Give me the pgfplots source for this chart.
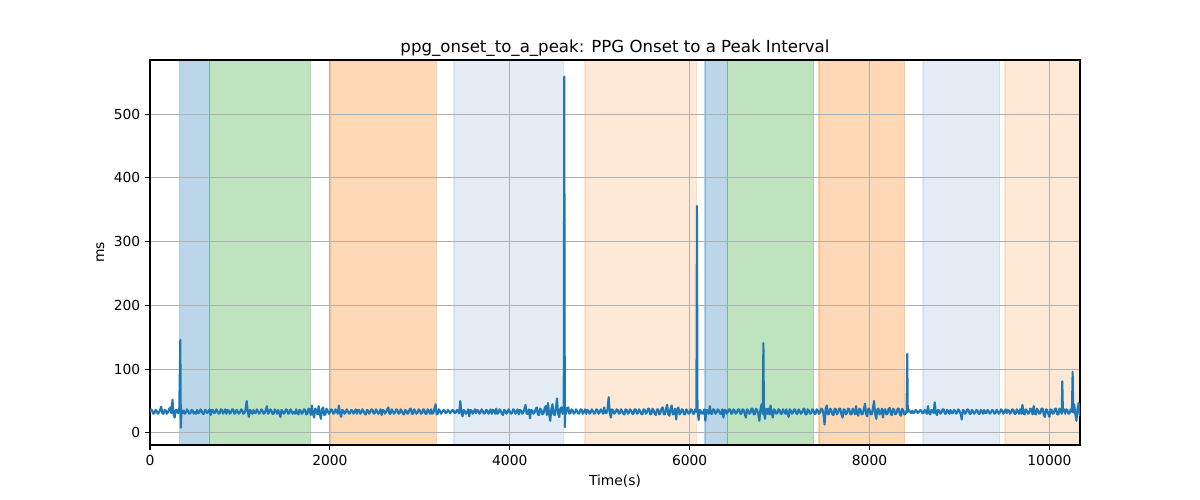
\documentclass[border=0pt]{standalone}
\usepackage{fontspec}
\setmainfont{DejaVu Sans}
\usepackage{pgfplots}
\pgfplotsset{compat=1.18}
\definecolor{tabblue}{RGB}{31,119,180}
\definecolor{taborange}{RGB}{255,127,14}
\definecolor{tabgreen}{RGB}{44,160,44}
\definecolor{paleblue}{RGB}{165,192,225}
\definecolor{paleorange}{RGB}{252,182,118}
\definecolor{gridgray}{RGB}{176,176,176}
\begin{document}
\fontsize{10}{12}\selectfont
\begin{tikzpicture}
\begin{axis}[
 set layers,
 width=669.6bp, height=277.2bp, scale only axis,
 xmin=0, xmax=10340, ymin=-19, ymax=585,
 xtick={0,2000,4000,6000,8000,10000}, ytick={0,100,200,300,400,500},
 scaled ticks=false,
 /pgf/number format/assume math mode=true,
 /pgf/number format/1000 sep={},
 tick align=outside, tick pos=left,
 major tick length=3.5bp,
 every tick/.style={black, line width=0.8bp},
 grid=major, grid style={color=gridgray, line width=0.8bp},
 axis line style={line width=0.8bp},
 tick label style={font=\fontsize{10}{12}\selectfont},
 label style={font=\fontsize{10}{12}\selectfont},
 xlabel={Time(s)}, ylabel={ms},
 title={ppg\_onset\_to\_a\_peak: PPG Onset to a Peak Interval},
 title style={font=\fontsize{12}{14}\selectfont, yshift=-7bp},
 span/.style={on layer=axis background, fill=#1, draw=#1, line width=1bp, forget plot, mark=none, fill opacity=0.3, draw opacity=0.3},
]
% shaded spans
\addplot[span=tabblue] coordinates {(330,-19) (664,-19) (664,585) (330,585) (330,-19)};
\addplot[span=tabgreen] coordinates {(664,-19) (1784,-19) (1784,585) (664,585) (664,-19)};
\addplot[span=taborange] coordinates {(2002,-19) (3185,-19) (3185,585) (2002,585) (2002,-19)};
\addplot[span=paleblue] coordinates {(3378,-19) (4598,-19) (4598,585) (3378,585) (3378,-19)};
\addplot[span=paleorange] coordinates {(4835,-19) (6078,-19) (6078,585) (4835,585) (4835,-19)};
\addplot[span=tabblue] coordinates {(6170,-19) (6418,-19) (6418,585) (6170,585) (6170,-19)};
\addplot[span=tabgreen] coordinates {(6418,-19) (7379,-19) (7379,585) (6418,585) (6418,-19)};
\addplot[span=taborange] coordinates {(7438,-19) (8391,-19) (8391,585) (7438,585) (7438,-19)};
\addplot[span=paleblue] coordinates {(8595,-19) (9448,-19) (9448,585) (8595,585) (8595,-19)};
\addplot[span=paleorange] coordinates {(9507,-19) (10340,-19) (10340,585) (9507,585) (9507,-19)};
% signal
\addplot[tabblue, line width=1.5bp, mark=none, line join=round] coordinates {
(0,33) (12,37) (25,35) (37,30) (50,31) (62,36) (75,34) (87,30) (100,32) (112,36) (125,41) (137,31) (150,30) (162,36) (175,35) (187,30) (200,33) (212,37) (225,40) (237,31)
(250,52) (262,29) (275,24) (287,36) (300,36) (312,31) (325,33) (337,146) (343,8) (350,36) (362,31) (375,35) (387,30) (400,32) (412,37) (425,34) (437,30) (450,31) (462,36) (475,35) (487,30)
(500,33) (512,30) (525,36) (537,31) (550,32) (562,37) (575,34) (587,30) (600,30) (612,36) (625,35) (637,31) (650,33) (662,37) (675,28) (687,36) (700,36) (712,31) (725,32) (737,37)
(750,34) (762,30) (775,31) (787,37) (800,36) (812,30) (825,33) (837,37) (850,30) (862,36) (875,35) (887,30) (900,32) (912,37) (925,37) (937,30) (950,31) (962,36) (975,34) (987,30)
(1000,32) (1012,37) (1025,35) (1037,30) (1050,31) (1062,36) (1075,50) (1087,33) (1100,25) (1112,36) (1125,34) (1137,30) (1150,36) (1162,31) (1175,31) (1187,37) (1200,34) (1212,30) (1225,32) (1237,37)
(1250,35) (1262,30) (1275,31) (1287,36) (1300,42) (1312,30) (1325,32) (1337,37) (1350,35) (1362,30) (1375,30) (1387,37) (1400,34) (1412,30) (1425,36) (1437,31) (1450,25) (1462,36) (1475,34) (1487,30)
(1500,32) (1512,37) (1525,36) (1537,30) (1550,31) (1562,37) (1575,34) (1587,30) (1600,33) (1612,30) (1625,37) (1637,31) (1650,29) (1662,36) (1675,35) (1687,30) (1700,32) (1712,37) (1725,36) (1737,29)
(1750,30) (1762,38) (1775,37) (1787,28) (1800,43) (1812,30) (1825,24) (1837,38) (1850,36) (1862,29) (1875,42) (1887,31) (1900,22) (1912,37) (1925,40) (1937,28) (1950,29) (1962,38) (1975,35) (1987,30)
(2000,32) (2012,37) (2025,36) (2037,30) (2050,31) (2062,37) (2075,34) (2087,30) (2100,43) (2112,31) (2125,25) (2137,36) (2150,35) (2162,30) (2175,32) (2187,37) (2200,34) (2212,30) (2225,31) (2237,36)
(2250,35) (2262,30) (2275,33) (2287,37) (2300,30) (2312,36) (2325,36) (2337,30) (2350,32) (2362,37) (2375,34) (2387,30) (2400,29) (2412,36) (2425,35) (2437,30) (2450,33) (2462,37) (2475,36) (2487,30)
(2500,31) (2512,37) (2525,34) (2537,30) (2550,32) (2562,37) (2575,28) (2587,36) (2600,35) (2612,30) (2625,33) (2637,37) (2650,40) (2662,30) (2675,30) (2687,37) (2700,34) (2712,30) (2725,32) (2737,37)
(2750,36) (2762,30) (2775,31) (2787,37) (2800,34) (2812,30) (2825,29) (2837,36) (2850,35) (2862,30) (2875,32) (2887,37) (2900,38) (2912,30) (2925,30) (2937,37) (2950,34) (2962,30) (2975,32) (2987,37)
(3000,35) (3012,30) (3025,31) (3037,37) (3050,36) (3062,30) (3075,30) (3087,37) (3100,34) (3112,30) (3125,37) (3137,30) (3150,31) (3162,38) (3175,45) (3187,29) (3200,30) (3212,37) (3225,34) (3237,30)
(3250,33) (3262,36) (3275,35) (3287,31) (3300,32) (3312,36) (3325,34) (3337,31) (3350,33) (3362,36) (3375,35) (3387,31) (3400,32) (3412,36) (3425,34) (3437,31) (3450,50) (3462,32) (3475,26) (3487,36)
(3500,34) (3512,30) (3525,32) (3537,37) (3550,26) (3562,36) (3575,35) (3587,30) (3600,33) (3612,37) (3625,31) (3637,36) (3650,35) (3662,30) (3675,32) (3687,37) (3700,34) (3712,30) (3725,31) (3737,36)
(3750,35) (3762,30) (3775,33) (3787,37) (3800,30) (3812,36) (3825,35) (3837,30) (3850,38) (3862,30) (3875,32) (3887,37) (3900,34) (3912,30) (3925,28) (3937,36) (3950,35) (3962,30) (3975,32) (3987,37)
(4000,34) (4012,30) (4025,31) (4037,37) (4050,36) (4062,30) (4075,33) (4087,37) (4100,29) (4112,36) (4125,35) (4137,30) (4150,32) (4162,37) (4175,44) (4187,30) (4200,30) (4212,37) (4225,23) (4237,36)
(4250,35) (4262,30) (4275,32) (4287,37) (4300,40) (4312,29) (4325,28) (4337,38) (4350,36) (4362,29) (4375,31) (4387,38) (4400,42) (4412,28) (4425,47) (4437,30) (4450,19) (4462,37) (4475,45) (4487,29)
(4500,28) (4512,38) (4525,54) (4537,30) (4550,25) (4562,38) (4575,40) (4587,30) (4600,38) (4606,559) (4612,9) (4619,40) (4625,30) (4637,38) (4650,40) (4662,30) (4675,31) (4687,37) (4700,35) (4712,30) (4725,32) (4737,37)
(4750,34) (4762,30) (4775,31) (4787,37) (4800,36) (4812,30) (4825,33) (4837,37) (4850,30) (4862,36) (4875,35) (4887,30) (4900,32) (4912,37) (4925,34) (4937,30) (4950,31) (4962,37) (4975,36) (4987,30)
(5000,32) (5012,37) (5025,34) (5037,30) (5050,40) (5062,31) (5075,31) (5087,37) (5100,56) (5112,31) (5125,24) (5137,37) (5150,35) (5162,30) (5175,32) (5187,37) (5200,36) (5212,30) (5225,31) (5237,37)
(5250,34) (5262,30) (5275,29) (5287,37) (5300,36) (5312,30) (5325,32) (5337,37) (5350,35) (5362,30) (5375,30) (5387,37) (5400,37) (5412,30) (5425,31) (5437,37) (5450,34) (5462,30) (5475,29) (5487,37)
(5500,36) (5512,30) (5525,32) (5537,38) (5550,38) (5562,29) (5575,30) (5587,38) (5600,35) (5612,30) (5625,28) (5637,37) (5650,37) (5662,29) (5675,31) (5687,38) (5700,40) (5712,29) (5725,29) (5737,38)
(5750,44) (5762,29) (5775,27) (5787,38) (5800,43) (5812,29) (5825,30) (5837,38) (5850,21) (5862,37) (5875,40) (5887,29) (5900,31) (5912,37) (5925,36) (5937,29) (5950,29) (5962,37) (5975,35) (5987,30)
(6000,31) (6012,37) (6025,36) (6037,30) (6050,30) (6062,37) (6075,33) (6081,356) (6087,36) (6100,20) (6112,36) (6125,34) (6137,30) (6150,31) (6162,37) (6175,19) (6187,36) (6200,35) (6212,30) (6225,42) (6237,30)
(6250,30) (6262,37) (6275,36) (6287,30) (6300,32) (6312,37) (6325,35) (6337,30) (6350,30) (6362,37) (6375,24) (6387,36) (6400,36) (6412,30) (6425,33) (6437,37) (6450,37) (6462,30) (6475,31) (6487,37)
(6500,35) (6512,30) (6525,32) (6537,37) (6550,37) (6562,30) (6575,30) (6587,37) (6600,36) (6612,30) (6625,24) (6637,37) (6650,35) (6662,30) (6675,31) (6687,38) (6700,38) (6712,29) (6725,29) (6737,38)
(6750,36) (6762,30) (6775,19) (6787,37) (6800,45) (6812,30) (6820,141) (6826,33) (6837,22) (6850,38) (6862,30) (6875,38) (6887,29) (6900,43) (6912,30) (6925,24) (6937,37) (6950,35) (6962,30) (6975,31) (6987,37)
(7000,36) (7012,30) (7025,30) (7037,37) (7050,34) (7062,30) (7075,37) (7087,30) (7100,25) (7112,37) (7125,35) (7137,30) (7150,32) (7162,37) (7175,36) (7187,30) (7200,30) (7212,37) (7225,34) (7237,30)
(7250,32) (7262,37) (7275,38) (7287,29) (7300,29) (7312,37) (7325,35) (7337,30) (7350,31) (7362,37) (7375,36) (7387,30) (7400,30) (7412,37) (7425,35) (7437,30) (7450,32) (7462,38) (7475,37) (7487,30)
(7500,13) (7512,38) (7525,43) (7537,29) (7550,30) (7562,38) (7575,36) (7587,29) (7600,28) (7612,38) (7625,37) (7637,29) (7650,32) (7662,38) (7675,38) (7687,29) (7700,24) (7712,37) (7725,36) (7737,29)
(7750,31) (7762,38) (7775,37) (7787,29) (7800,29) (7812,38) (7825,35) (7837,29) (7850,42) (7862,30) (7875,27) (7887,38) (7900,36) (7912,29) (7925,30) (7937,38) (7950,46) (7962,29) (7975,26) (7987,38)
(8000,37) (8012,29) (8025,29) (8037,38) (8050,50) (8062,30) (8075,22) (8087,37) (8100,38) (8112,29) (8125,31) (8137,38) (8150,24) (8162,36) (8175,37) (8187,29) (8200,30) (8212,38) (8225,39) (8237,29)
(8250,28) (8262,38) (8275,36) (8287,29) (8300,31) (8312,38) (8325,38) (8337,29) (8350,27) (8362,38) (8375,35) (8387,29) (8400,30) (8412,36) (8419,124) (8425,33) (8437,36) (8450,33) (8462,31) (8475,35) (8487,31)
(8500,32) (8512,36) (8525,34) (8537,31) (8550,33) (8562,36) (8575,35) (8587,31) (8600,31) (8612,36) (8625,34) (8637,30) (8650,42) (8662,31) (8675,29) (8687,36) (8700,35) (8712,31) (8725,48) (8737,31)
(8750,28) (8762,36) (8775,35) (8787,30) (8800,32) (8812,37) (8825,37) (8837,30) (8850,30) (8862,36) (8875,34) (8887,30) (8900,36) (8912,31) (8925,31) (8937,36) (8950,35) (8962,30) (8975,32) (8987,37)
(9000,34) (9012,30) (9025,21) (9037,36) (9050,35) (9062,30) (9075,32) (9087,37) (9100,36) (9112,30) (9125,30) (9137,36) (9150,34) (9162,30) (9175,32) (9187,36) (9200,35) (9212,30) (9225,30) (9237,36)
(9250,34) (9262,30) (9275,36) (9287,31) (9300,31) (9312,36) (9325,34) (9337,30) (9350,32) (9362,36) (9375,35) (9387,30) (9400,31) (9412,36) (9425,34) (9437,30) (9450,32) (9462,37) (9475,35) (9487,30)
(9500,33) (9512,37) (9525,31) (9537,36) (9550,35) (9562,30) (9575,32) (9587,37) (9600,36) (9612,30) (9625,30) (9637,37) (9650,34) (9662,30) (9675,37) (9687,30) (9700,44) (9712,30) (9725,29) (9737,37)
(9750,35) (9762,30) (9775,31) (9787,38) (9800,37) (9812,29) (9825,42) (9837,30) (9850,29) (9862,38) (9875,35) (9887,30) (9900,31) (9912,38) (9925,38) (9937,29) (9950,25) (9962,37) (9975,36) (9987,30)
(10000,25) (10012,37) (10025,36) (10037,30) (10050,31) (10062,38) (10075,38) (10087,29) (10100,29) (10112,38) (10125,35) (10137,30) (10143,81) (10150,33) (10162,37) (10175,30) (10187,37) (10200,36) (10212,30) (10225,31) (10237,37)
(10250,33) (10258,96) (10265,32) (10275,45) (10287,30) (10300,19) (10312,37) (10325,47) (10337,28) (10340,34)
};
\end{axis}
\path (-108bp,-39.6bp) rectangle (756bp,320.4bp);
\end{tikzpicture}
\end{document}
